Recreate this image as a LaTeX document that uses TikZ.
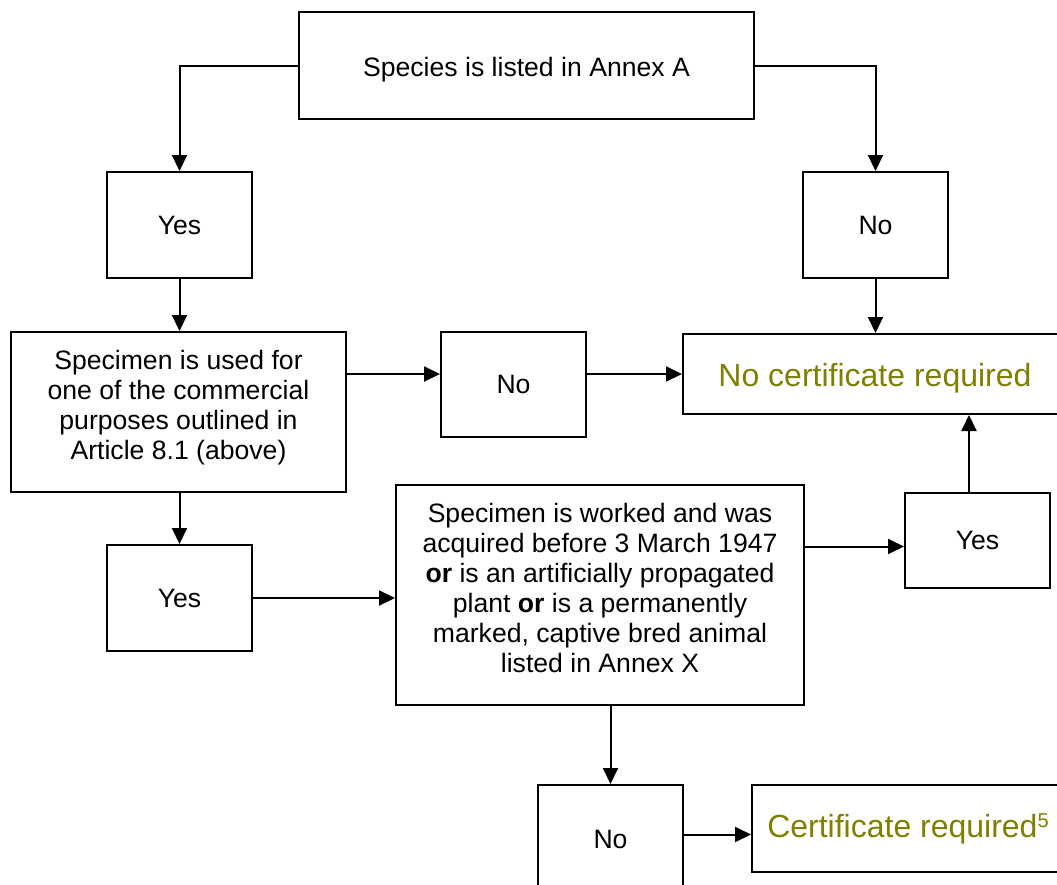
\documentclass[tikz,border=0pt]{standalone}
\usepackage{fontspec}
\setmainfont{Liberation Sans}
\usetikzlibrary{arrows.meta}
\definecolor{olivetext}{RGB}{128,128,0}

\begin{document}
\begin{tikzpicture}[x=0.5pt,y=-0.5pt,
		box/.style={draw, line width=1pt, inner sep=0pt, align=center,
			font=\fontsize{13.3}{15}\selectfont},
		result/.style={box, text=olivetext, font=\fontsize{16}{19}\selectfont},
		arr/.style={line width=1pt, -{Triangle[length=8pt,width=7.5pt]}}]
		\useasboundingbox (0,0) rectangle (1057,885);
		\clip (0,0) rectangle (1057,885);

		\node [box, minimum width=227.5pt, minimum height=53.5pt] (species) at (526.5,65.5) {\raisebox{-2pt}[\height][\depth]{Species is listed in Annex A}};
\node [box, minimum width=72.5pt, minimum height=53pt] (yes1) at (179.5,225) {Yes};
\node [box, minimum width=72.5pt, minimum height=53pt] (no1) at (875.5,225) {No};
\node [box, minimum width=167.5pt, minimum height=80pt] (used) at (178.5,412) {Specimen is used for\\one of the commercial\\purposes outlined in\\Article 8.1 (above)\\[-8pt]};
\node [box, minimum width=72.5pt, minimum height=52.5pt] (no2) at (513.5,384.5) {No};
\node [result, minimum width=192pt, minimum height=40pt] (nocert) at (875,374) {\raisebox{-2pt}[\height][\depth]{No certificate required}};
\node [box, minimum width=72.5pt, minimum height=53pt] (yes2) at (179.5,598) {Yes};
\node [box, minimum width=204pt, minimum height=110pt] (worked) at (600,595) {Specimen is worked and was\\acquired before 3 March 1947\\\textbf{or} is an artificially propagated\\plant \textbf{or} is a permanently\\marked, captive bred animal\\listed in Annex X\\[-8pt]};
\node [box, minimum width=72.5pt, minimum height=47.5pt] (yes3) at (977.5,540.5) {Yes};
\node [box, minimum width=72.5pt, minimum height=54pt] (no3) at (610.5,839) {No};
\node [result, minimum width=156pt, minimum height=43.5pt] (cert) at (908,828.5) {Certificate required\raisebox{5pt}{\fontsize{10}{12}\selectfont 5}};

		\draw [arr] (species.west) -| (yes1.north);
\draw [arr] (species.east) -| (no1.north);
\draw [arr] (yes1.south) -- (yes1.south |- used.north);
\draw [arr] (no1.south) -- (no1.south |- nocert.north);
\draw [arr] (used.east |- nocert.west) -- (no2.west |- nocert.west);
\draw [arr] (no2.east |- nocert.west) -- (nocert.west);
\draw [arr] (yes2.north |- used.south) -- (yes2.north);
\draw [arr] (yes2.east) -- (yes2.east -| worked.west);
\draw [arr] ([yshift=-3pt]yes3.west -| worked.east) -- ([yshift=-3pt]yes3.west);
\draw [arr] ([xshift=-4.25pt]yes3.north) -- ([xshift=-4.25pt]yes3.north |- nocert.south);
\draw [arr] (no3.north |- worked.south) -- (no3.north);
\draw [arr] ([yshift=-3pt]cert.west -| no3.east) -- ([yshift=-3pt]cert.west);

		\end{tikzpicture}
\end{document}
